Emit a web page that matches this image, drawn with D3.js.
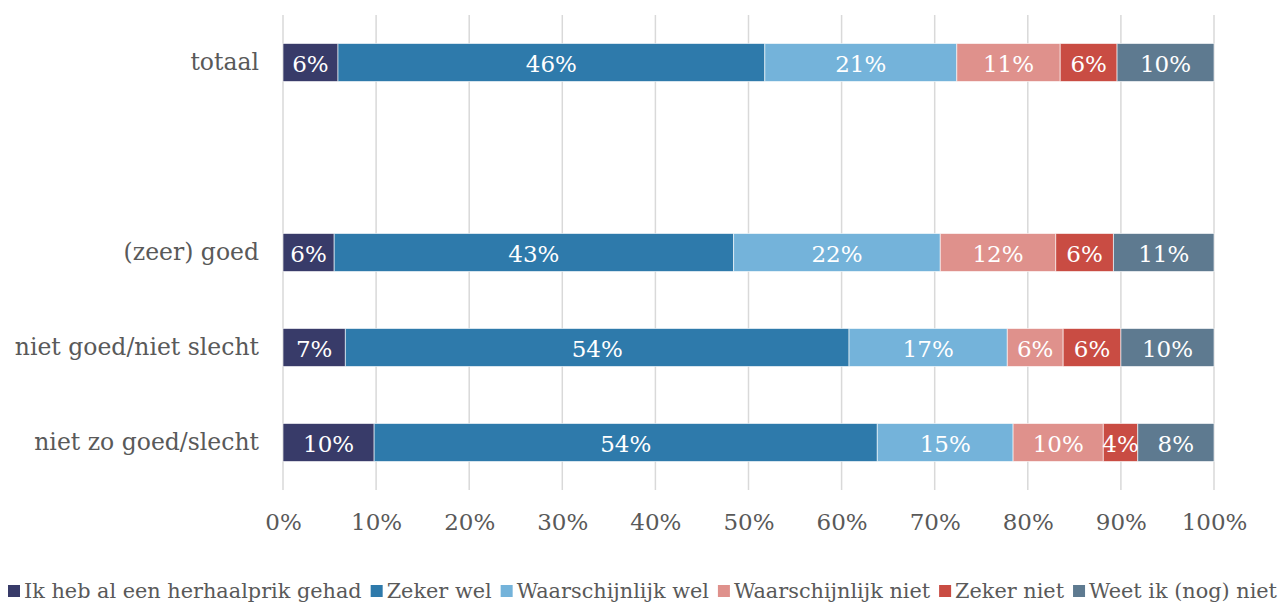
<!DOCTYPE html>
<html><head><meta charset="utf-8">
<script src="https://cdn.jsdelivr.net/npm/d3@7"></script>
<style>body{margin:0;background:#fff}svg{display:block}text{font-family:"DejaVu Serif",serif}</style>
</head><body><svg id="c" width="1279" height="605"></svg>
<script>
const categories = ["totaal", "", "(zeer) goed", "niet goed/niet slecht", "niet zo goed/slecht"];
const seriesNames = ["Ik heb al een herhaalprik gehad", "Zeker wel", "Waarschijnlijk wel", "Waarschijnlijk niet", "Zeker niet", "Weet ik (nog) niet"];
const colors = ["#383b69", "#2e7aab", "#74b3da", "#df918c", "#c94c43", "#5e7a90"];
const totaal = [5.9, 45.8, 20.6, 11.1, 6.1, 10.4];
const zeerGoed = [5.5, 42.9, 22.2, 12.4, 6.2, 10.8];
const nietGoedNietSlecht = [6.7, 54.1, 17.0, 6.0, 6.2, 10.0];
const nietZoGoedSlecht = [9.8, 54.1, 14.6, 9.7, 3.7, 8.2];
const tickValues = [0, 0.1, 0.2, 0.3, 0.4, 0.5, 0.6, 0.7, 0.8, 0.9, 1.0];

const rows = [["totaal", totaal], ["(zeer) goed", zeerGoed], ["niet goed/niet slecht", nietGoedNietSlecht], ["niet zo goed/slecht", nietZoGoedSlecht]]
  .map(([cat, vals]) => { const o = {cat}; seriesNames.forEach((s, i) => o[s] = vals[i]); return o; });

const svg = d3.select("#c");
const x = d3.scaleLinear().domain([0, 1]).range([283, 1214]);
const y = d3.scaleBand().domain(categories).range([15, 490]).paddingInner(0.6).paddingOuter(0.3);
const stack = d3.stack().keys(seriesNames).offset(d3.stackOffsetExpand)(rows);
const textColor = "#595959";

// gridlines
svg.append("g").selectAll("line").data(tickValues).join("line")
  .attr("x1", d => x(d)).attr("x2", d => x(d)).attr("y1", 15).attr("y2", 490)
  .attr("stroke", "#d9d9d9").attr("stroke-width", 1.5);

// bars
const g = svg.append("g").selectAll("g").data(stack).join("g").attr("fill", (d, i) => colors[i]);
g.selectAll("rect").data(d => d).join("rect")
  .attr("x", d => x(d[0])).attr("width", d => x(d[1]) - x(d[0]))
  .attr("y", d => y(d.data.cat)).attr("height", y.bandwidth())
  .attr("stroke", "rgba(255,255,255,0.6)").attr("stroke-width", 1);

// data labels
stack.forEach((s, si) => {
  svg.append("g").selectAll("text").data(s).join("text")
    .attr("x", d => (x(d[0]) + x(d[1])) / 2).attr("y", d => y(d.data.cat) + y.bandwidth() / 2 + 1)
    .attr("text-anchor", "middle").attr("dominant-baseline", "central")
    .attr("fill", "#fff").attr("font-size", 23)
    .text(d => Math.round(d.data[seriesNames[si]]) + "%");
});

// y axis labels
const yAxis = svg.append("g").attr("transform", "translate(283,0)")
  .call(d3.axisLeft(y).tickSize(0).tickPadding(24));
yAxis.select(".domain").remove();
yAxis.selectAll("text").attr("font-size", 23.5).attr("fill", textColor).style("font-family", '"DejaVu Serif",serif');

// x axis
const xAxis = svg.append("g").attr("transform", "translate(0,490)")
  .call(d3.axisBottom(x).tickValues(tickValues).tickFormat(d3.format(".0%")).tickSize(0).tickPadding(24));
xAxis.select(".domain").remove();
xAxis.selectAll("text").attr("font-size", 23).attr("fill", textColor).style("font-family", '"DejaVu Serif",serif');

// legend
const lg = svg.append("g").attr("transform", "translate(8,591)");
let lx = 0;
seriesNames.forEach((s, i) => {
  const item = lg.append("g").attr("transform", `translate(${lx},0)`);
  item.append("rect").attr("x", 0).attr("y", -6).attr("width", 12).attr("height", 12).attr("fill", colors[i]);
  const t = item.append("text").attr("x", 16).attr("y", 0).attr("dominant-baseline", "central")
    .attr("font-size", 20.8).attr("fill", textColor).text(s);
  lx += 16 + t.node().getComputedTextLength() + 9;
});
</script></body></html>
